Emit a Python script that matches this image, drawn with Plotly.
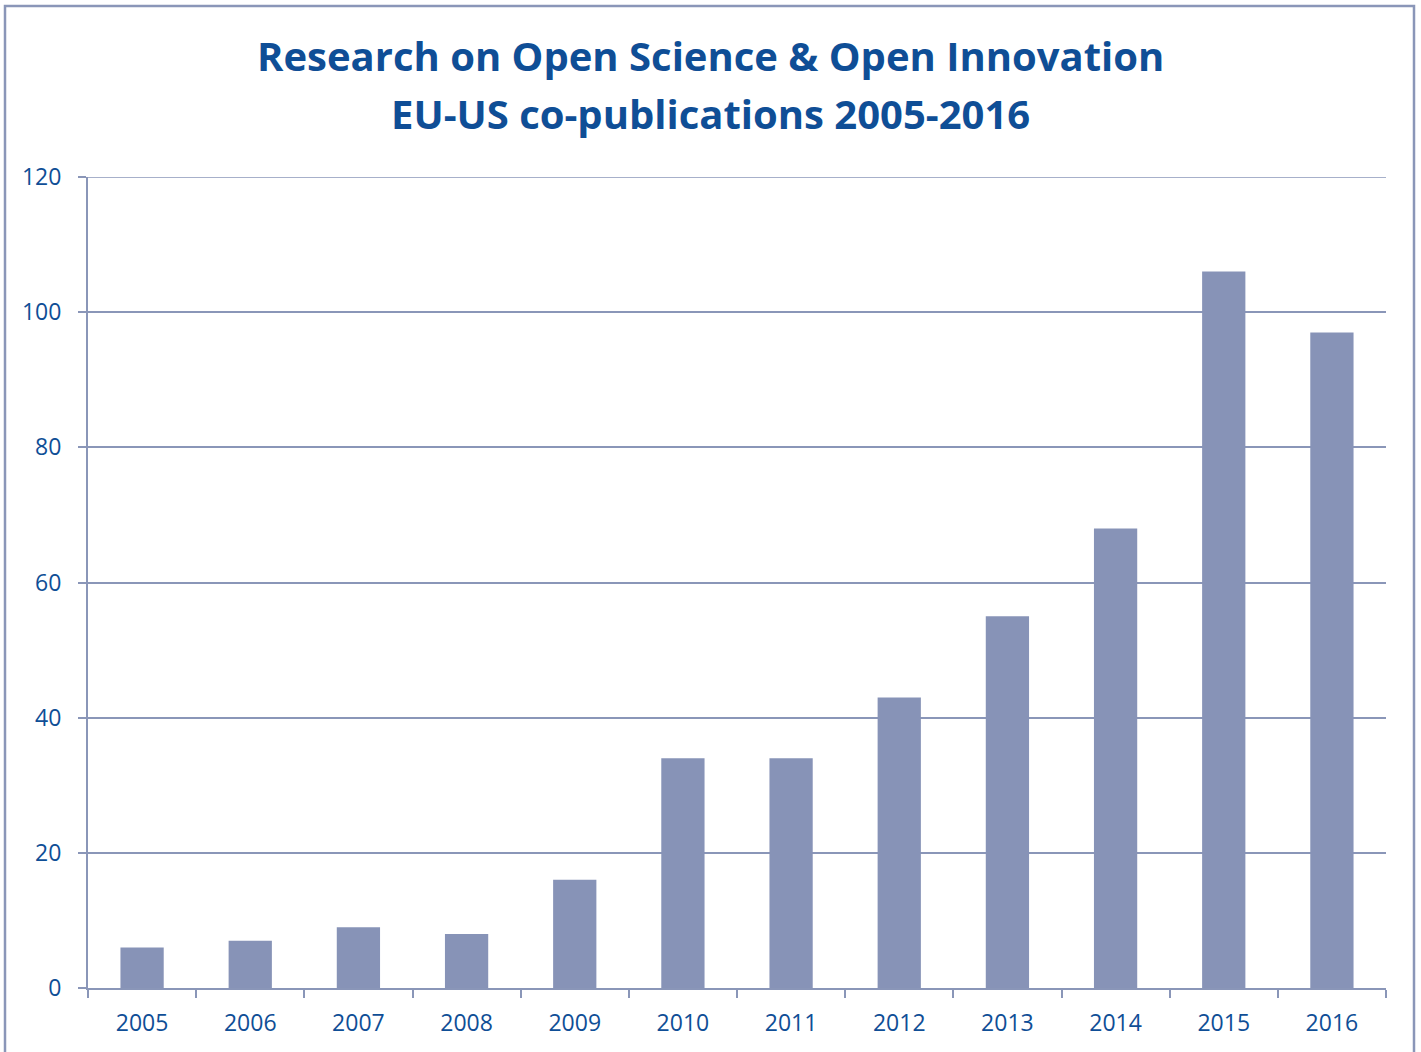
import plotly.graph_objects as go

# EU-US co-publications on Open Science & Open Innovation, by year
years = ["2005", "2006", "2007", "2008", "2009", "2010",
         "2011", "2012", "2013", "2014", "2015", "2016"]
publications = [6, 7, 9, 8, 16, 34, 34, 43, 55, 68, 106, 97]
y_ticks = [0, 20, 40, 60, 80, 100, 120]
title_lines = ["Research on Open Science & Open Innovation",
               "EU-US co-publications 2005-2016"]

TEXT = "#0f4e96"
LINE = "#8a96b8"
BAR = "#8793b7"
FONT = "Open Sans"

W, H = 1421, 1052
L, R, T, B = 88, 35, 177, 64
pw, ph = W - L - R, H - T - B


def px_x(x):
    return (x - L) / pw


def px_y(y):
    return (H - B - y) / ph


fig = go.Figure(go.Bar(
    x=years, y=publications,
    marker=dict(color=BAR, line=dict(width=0)),
    width=0.4,
))

fig.update_layout(
    width=W, height=H,
    margin=dict(l=L, r=R, t=T, b=B, autoexpand=False),
    paper_bgcolor="white", plot_bgcolor="white",
    showlegend=False,
    font=dict(family=FONT, color=TEXT, size=23),
)

fig.update_xaxes(
    type="category",
    tickson="boundaries", ticks="outside", ticklen=8, tickwidth=2,
    tickcolor=LINE, showline=True, linecolor=LINE, linewidth=2,
    showgrid=False, tickfont=dict(size=23, color=TEXT),
    ticklabelstandoff=13,
)
fig.update_yaxes(
    range=[0, 120], tickvals=y_ticks,
    ticks="outside", ticklen=8, tickwidth=2, tickcolor=LINE,
    showline=True, linecolor=LINE, linewidth=2,
    showgrid=True, gridcolor=LINE, gridwidth=1.5,
    zeroline=False, tickfont=dict(size=23, color=TEXT),
    ticklabelstandoff=12,
)

# Gridline along the top of the value range
fig.add_shape(
    type="line", xref="paper", yref="y",
    x0=0, x1=1, y0=y_ticks[-1], y1=y_ticks[-1],
    line=dict(color=LINE, width=1.5), layer="below",
)

# Two-line title
for text, ypx in zip(title_lines, [56, 114]):
    fig.add_annotation(
        text=f"<b>{text}</b>", xref="paper", yref="paper",
        x=px_x(710.5), y=px_y(ypx), xanchor="center", yanchor="middle",
        showarrow=False, font=dict(family=FONT, size=40, color=TEXT),
    )

# Outer frame around the chart
fig.add_shape(
    type="rect", xref="paper", yref="paper",
    x0=px_x(5), x1=px_x(1414), y0=px_y(1070), y1=px_y(6),
    line=dict(color=LINE, width=2.5), fillcolor="rgba(0,0,0,0)", layer="below",
)

fig.write_html("out.html")
